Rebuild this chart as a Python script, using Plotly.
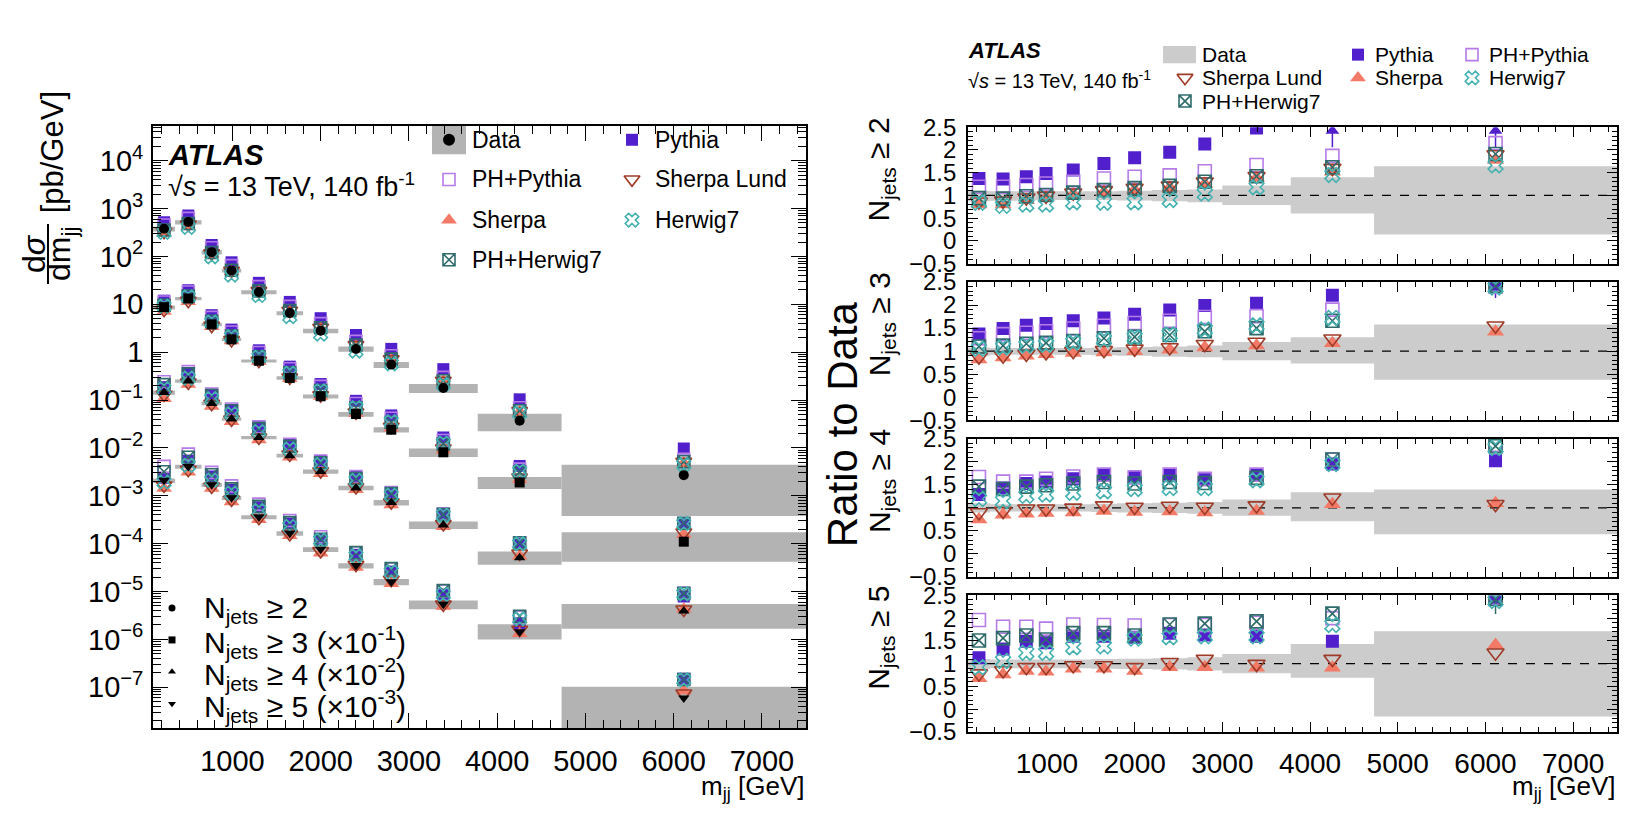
import plotly.graph_objects as go

W, H = 1635, 829
FONT = "Liberation Sans, Arial, Helvetica, sans-serif"

# ---------------- data ----------------
mjj_edges = [100, 350, 650, 880, 1100, 1500, 1800, 2200, 2600, 3000, 3780, 4730, 7500]
x_ticks = [1000, 2000, 3000, 4000, 5000, 6000, 7000]

njets_names = ["2", "3", "4", "5"]
njets_scale_exp = [0, -1, -2, -3]
data_symbols = ["circle", "square", "triangle-up", "triangle-down"]

# measured cross sections dsigma/dmjj [pb/GeV] (unscaled)
data_n2 = [380, 525, 123, 51, 18, 6.6, 2.8, 1.17, 0.55, 0.178, 0.037, 0.0027]
data_n3 = [87, 132, 38, 18.5, 6.6, 2.9, 1.2, 0.51, 0.24, 0.081, 0.019, 0.0011]
data_n4 = [14.4, 25, 8.5, 4.0, 1.65, 0.69, 0.32, 0.146, 0.072, 0.0245, 0.0051, 0.00039]
data_n5 = [2.1, 4.1, 1.7, 0.91, 0.36, 0.165, 0.076, 0.035, 0.016, 0.0054, 0.00145, 0.00006]

# relative total uncertainty of the data (up / down)
unc_up_n2 = [0.10, 0.09, 0.09, 0.09, 0.09, 0.09, 0.10, 0.12, 0.13, 0.22, 0.40, 0.64]
unc_dn_n2 = [0.13, 0.12, 0.11, 0.10, 0.10, 0.10, 0.11, 0.13, 0.15, 0.21, 0.40, 0.86]
unc_up_n3 = [0.08, 0.07, 0.07, 0.07, 0.07, 0.08, 0.09, 0.10, 0.12, 0.20, 0.30, 0.58]
unc_dn_n3 = [0.10, 0.08, 0.08, 0.08, 0.08, 0.09, 0.10, 0.12, 0.13, 0.20, 0.27, 0.62]
unc_up_n4 = [0.10, 0.08, 0.08, 0.08, 0.08, 0.09, 0.10, 0.11, 0.13, 0.18, 0.34, 0.40]
unc_dn_n4 = [0.10, 0.08, 0.08, 0.08, 0.08, 0.09, 0.10, 0.11, 0.13, 0.17, 0.29, 0.57]
unc_up_n5 = [0.10, 0.09, 0.09, 0.09, 0.09, 0.10, 0.11, 0.12, 0.14, 0.21, 0.43, 0.71]
unc_dn_n5 = [0.12, 0.10, 0.10, 0.10, 0.10, 0.11, 0.12, 0.13, 0.15, 0.21, 0.31, 1.16]

# MC / data ratios
pythia_n2 = [1.37, 1.36, 1.41, 1.48, 1.56, 1.70, 1.83, 1.95, 2.13, 2.48, 2.80, 3.60]
phpythia_n2 = [1.19, 1.19, 1.23, 1.26, 1.30, 1.37, 1.41, 1.44, 1.53, 1.67, 1.87, 2.15]
sherpa_n2 = [0.80, 0.80, 0.90, 0.95, 1.02, 1.07, 1.12, 1.17, 1.25, 1.38, 1.52, 1.78]
sherpalund_n2 = [0.86, 0.88, 0.95, 0.99, 1.06, 1.11, 1.16, 1.21, 1.30, 1.42, 1.60, 1.90]
phherwig_n2 = [0.94, 0.93, 0.98, 1.01, 1.06, 1.12, 1.16, 1.21, 1.30, 1.42, 1.62, 1.91]
herwig_n2 = [0.84, 0.77, 0.80, 0.80, 0.85, 0.84, 0.85, 0.90, 1.04, 1.18, 1.45, 1.66]

pythia_n3 = [1.37, 1.49, 1.56, 1.60, 1.66, 1.72, 1.80, 1.89, 1.99, 2.04, 2.21, 2.45]
phpythia_n3 = [1.28, 1.37, 1.40, 1.43, 1.49, 1.55, 1.61, 1.66, 1.74, 1.76, 1.90, 2.40]
sherpa_n3 = [0.82, 0.86, 0.90, 0.93, 0.96, 0.97, 1.00, 1.03, 1.08, 1.12, 1.17, 1.42]
sherpalund_n3 = [0.88, 0.90, 0.94, 0.97, 1.00, 1.02, 1.05, 1.08, 1.15, 1.20, 1.27, 1.55]
phherwig_n3 = [1.10, 1.12, 1.16, 1.18, 1.22, 1.28, 1.31, 1.35, 1.43, 1.50, 1.66, 2.42]
herwig_n3 = [1.05, 1.08, 1.12, 1.14, 1.19, 1.25, 1.30, 1.36, 1.47, 1.56, 1.72, 2.38]

pythia_n4 = [1.29, 1.43, 1.53, 1.56, 1.63, 1.71, 1.67, 1.71, 1.61, 1.70, 1.95, 2.02]
phpythia_n4 = [1.67, 1.57, 1.57, 1.63, 1.68, 1.72, 1.66, 1.72, 1.63, 1.72, 2.05, 2.37]
sherpa_n4 = [0.75, 0.85, 0.87, 0.89, 0.90, 0.93, 0.91, 0.92, 0.90, 0.93, 1.08, 1.10]
sherpalund_n4 = [0.90, 0.93, 0.98, 0.98, 1.00, 1.05, 1.02, 1.04, 1.02, 1.05, 1.22, 1.08]
phherwig_n4 = [1.46, 1.41, 1.46, 1.49, 1.53, 1.56, 1.53, 1.56, 1.54, 1.65, 2.05, 2.34]
herwig_n4 = [1.19, 1.15, 1.26, 1.29, 1.33, 1.36, 1.41, 1.43, 1.43, 1.60, 1.95, 2.30]

pythia_n5 = [1.13, 1.32, 1.49, 1.46, 1.60, 1.60, 1.58, 1.67, 1.63, 1.60, 1.49, 2.42]
phpythia_n5 = [1.96, 1.81, 1.81, 1.77, 1.86, 1.85, 1.84, 1.85, 1.85, 1.90, 2.00, 2.45]
sherpa_n5 = [0.68, 0.76, 0.84, 0.82, 0.89, 0.89, 0.84, 0.92, 0.92, 0.91, 0.91, 1.41]
sherpalund_n5 = [0.78, 0.85, 0.92, 0.92, 0.96, 0.96, 0.92, 1.03, 1.10, 0.99, 1.10, 1.24]
phherwig_n5 = [1.51, 1.56, 1.62, 1.53, 1.67, 1.67, 1.62, 1.86, 1.88, 1.93, 2.10, 2.42]
herwig_n5 = [0.92, 1.06, 1.24, 1.24, 1.36, 1.38, 1.55, 1.58, 1.60, 1.60, 1.85, 2.38]

# visible statistical error of MC in the last bin (ratio units)
last_bin_err = {("3", "Pythia"): 0.30, ("5", "PH+Herwig7"): 0.33}

data_all = [data_n2, data_n3, data_n4, data_n5]
unc_up_all = [unc_up_n2, unc_up_n3, unc_up_n4, unc_up_n5]
unc_dn_all = [unc_dn_n2, unc_dn_n3, unc_dn_n4, unc_dn_n5]
ratio_all = [
    {"Pythia": pythia_n2, "PH+Pythia": phpythia_n2, "Sherpa": sherpa_n2,
     "Sherpa Lund": sherpalund_n2, "PH+Herwig7": phherwig_n2, "Herwig7": herwig_n2},
    {"Pythia": pythia_n3, "PH+Pythia": phpythia_n3, "Sherpa": sherpa_n3,
     "Sherpa Lund": sherpalund_n3, "PH+Herwig7": phherwig_n3, "Herwig7": herwig_n3},
    {"Pythia": pythia_n4, "PH+Pythia": phpythia_n4, "Sherpa": sherpa_n4,
     "Sherpa Lund": sherpalund_n4, "PH+Herwig7": phherwig_n4, "Herwig7": herwig_n4},
    {"Pythia": pythia_n5, "PH+Pythia": phpythia_n5, "Sherpa": sherpa_n5,
     "Sherpa Lund": sherpalund_n5, "PH+Herwig7": phherwig_n5, "Herwig7": herwig_n5},
]

samples = ["Pythia", "PH+Pythia", "Sherpa", "Sherpa Lund", "PH+Herwig7", "Herwig7"]
mc_style = {
    "Pythia": ("square", "#5120cc"),
    "PH+Pythia": ("square-open", "#b57be6"),
    "Sherpa": ("triangle-up", "#f27a66"),
    "Sherpa Lund": ("triangle-down-open", "#9e3b28"),
    "PH+Herwig7": ("square-x-open", "#2f6b6b"),
    "Herwig7": ("x-open", "#45b1b1"),
}
BAND_L = "#b3b3b3"
BAND_R = "#cccccc"

centers = [(a + b) / 2 for a, b in zip(mjj_edges[:-1], mjj_edges[1:])]
XR = [mjj_edges[0], mjj_edges[-1]]

# ---------------- geometry (pixels) ----------------
LEFT_X = (153, 806)
LEFT_Y = (116, 738)
RIGHT_X = (968, 1617)
RIGHT_Y = [(117, 258), (277, 420), (439, 582), (601, 742)]


def px(x):
    return x / W


def py(y):
    return 1 - y / H


def mstyle(name, size):
    sym, col = mc_style[name]
    if sym.startswith("triangle"):
        size = size * 1.15
    if sym.endswith("open"):
        return dict(symbol=sym, size=size, color=col, line=dict(color=col, width=1.6))
    return dict(symbol=sym, size=size, color=col, line=dict(width=0))


def band_xy(lo, hi):
    xs, ys = [], []
    for i in range(len(centers)):
        a, b = mjj_edges[i], mjj_edges[i + 1]
        xs += [a, b, b, a, a, None]
        ys += [lo[i], lo[i], hi[i], hi[i], lo[i], None]
    return xs, ys


fig = go.Figure()

# ---------------- left panel ----------------
for k in range(4):
    s = 10 ** njets_scale_exp[k]
    d = [v * s for v in data_all[k]]
    lo = [max(v * (1 - dn), 1e-12) for v, dn in zip(d, unc_dn_all[k])]
    hi = [v * (1 + up) for v, up in zip(d, unc_up_all[k])]
    bx, by = band_xy(lo, hi)
    fig.add_trace(go.Scatter(x=bx, y=by, mode="lines", fill="toself", fillcolor=BAND_L,
                             line=dict(width=0), hoverinfo="skip", showlegend=False,
                             xaxis="x", yaxis="y"))
for k in range(4):
    s = 10 ** njets_scale_exp[k]
    for name in samples:
        vals = [dv * s * r for dv, r in zip(data_all[k], ratio_all[k][name])]
        fig.add_trace(go.Scatter(x=centers, y=vals, mode="markers", marker=mstyle(name, 12),
                                 showlegend=False, xaxis="x", yaxis="y"))
for k in range(4):
    s = 10 ** njets_scale_exp[k]
    d = [v * s for v in data_all[k]]
    fig.add_trace(go.Scatter(x=centers, y=d, mode="markers",
                             marker=dict(symbol=data_symbols[k], size=10, color="black"),
                             showlegend=False, xaxis="x", yaxis="y"))

# ---------------- right panels ----------------
for k in range(4):
    xa = "x%d" % (k + 2)
    ya = "y%d" % (k + 2)
    lo = [1 - v for v in unc_dn_all[k]]
    hi = [1 + v for v in unc_up_all[k]]
    bx, by = band_xy(lo, hi)
    fig.add_trace(go.Scatter(x=bx, y=by, mode="lines", fill="toself", fillcolor=BAND_R,
                             line=dict(width=0), hoverinfo="skip", showlegend=False,
                             xaxis=xa, yaxis=ya))
    fig.add_trace(go.Scatter(x=XR, y=[1, 1], mode="lines",
                             line=dict(color="black", width=1.3, dash="dash"),
                             showlegend=False, xaxis=xa, yaxis=ya))
    for name in samples:
        r = ratio_all[k][name]
        col = mc_style[name][1]
        inx, iny, errm = [], [], []
        arx = []
        for i, v in enumerate(r):
            if v > 2.5:
                arx.append(centers[i])
            else:
                inx.append(centers[i])
                iny.append(v)
                e = last_bin_err.get((njets_names[k], name), 0) if i == len(r) - 1 else 0
                errm.append(e)
        tr = dict(x=inx, y=iny, mode="markers", marker=mstyle(name, 13),
                  showlegend=False, xaxis=xa, yaxis=ya)
        if any(errm):
            tr["error_y"] = dict(type="data", symmetric=False, array=[0] * len(errm),
                                 arrayminus=errm, width=0, thickness=1.5, color=col)
        fig.add_trace(go.Scatter(**tr))
        if arx:
            fig.add_trace(go.Scatter(
                x=arx, y=[2.42] * len(arx), mode="markers",
                marker=dict(symbol="triangle-up", size=12, color=col),
                error_y=dict(type="data", symmetric=False, array=[0] * len(arx),
                             arrayminus=[0.36] * len(arx), width=0, thickness=1.5, color=col),
                showlegend=False, xaxis=xa, yaxis=ya))

# ---------------- legend markers (pixel overlay) ----------------
OV = dict(xaxis="x6", yaxis="y6", showlegend=False, hoverinfo="skip")
shapes = []
annotations = []


def legend_entry(name, mx, my, size):
    if name == "Data":
        return
    fig.add_trace(go.Scatter(x=[mx], y=[my], mode="markers", marker=mstyle(name, size), **OV))


# left legend
LC1, LC2 = 449, 632
LROWS = [130, 171, 213, 254]
left_entries = [("Data", LC1, 0), ("Pythia", LC2, 0), ("PH+Pythia", LC1, 1),
                ("Sherpa Lund", LC2, 1), ("Sherpa", LC1, 2), ("Herwig7", LC2, 2),
                ("PH+Herwig7", LC1, 3)]
for name, cx, r in left_entries:
    y0 = LROWS[r]
    legend_entry(name, cx, y0, 12)
    annotations.append(dict(x=px(cx + 21), y=py(y0), xref="paper", yref="paper", text=name,
                            showarrow=False, xanchor="left", yanchor="middle",
                            font=dict(size=23, family=FONT, color="black")))
shapes.append(dict(type="rect", xref="paper", yref="paper", x0=px(LC1 - 17), x1=px(LC1 + 17),
                   y0=py(LROWS[0] + 15), y1=py(LROWS[0] - 15), fillcolor=BAND_L,
                   line=dict(width=0), layer="below"))
fig.add_trace(go.Scatter(x=[LC1], y=[LROWS[0]], mode="markers",
                         marker=dict(symbol="circle", size=12, color="black"), **OV))

# njets marker legend (bottom-left)
NROWS = [614, 647, 680, 713]
njets_texts = ["N<sub>jets</sub> ≥ 2", "N<sub>jets</sub> ≥ 3 (×10<sup>-1</sup>)",
               "N<sub>jets</sub> ≥ 4 (×10<sup>-2</sup>)", "N<sub>jets</sub> ≥ 5 (×10<sup>-3</sup>)"]
for k in range(4):
    fig.add_trace(go.Scatter(x=[172], y=[NROWS[k]], mode="markers",
                             marker=dict(symbol=data_symbols[k], size=7, color="black"), **OV))
    annotations.append(dict(x=px(202), y=py(NROWS[k] + 2), xref="paper", yref="paper",
                            text=njets_texts[k], showarrow=False, xanchor="left",
                            yanchor="middle", font=dict(size=30, family=FONT, color="black")))

# right legend
RC = [1185, 1358, 1472]
RROWS = [42, 66, 90]
right_entries = [("Data", 0, 0), ("Pythia", 1, 0), ("PH+Pythia", 2, 0),
                 ("Sherpa Lund", 0, 1), ("Sherpa", 1, 1), ("Herwig7", 2, 1),
                 ("PH+Herwig7", 0, 2)]
for name, c, r in right_entries:
    legend_entry(name, RC[c], RROWS[r], 12)
    annotations.append(dict(x=px(RC[c] + 15), y=py(RROWS[r]), xref="paper", yref="paper",
                            text=name, showarrow=False, xanchor="left", yanchor="middle",
                            font=dict(size=21, family=FONT, color="black")))
shapes.append(dict(type="rect", xref="paper", yref="paper", x0=px(RC[0] - 22), x1=px(RC[0] + 11),
                   y0=py(RROWS[0] + 9), y1=py(RROWS[0] - 9), fillcolor=BAND_R,
                   line=dict(width=0), layer="below"))


# ---------------- texts ----------------
def txt(x, y, s, size, xa="left", ya="middle", angle=0):
    annotations.append(dict(x=px(x), y=py(y), xref="paper", yref="paper", text=s,
                            showarrow=False, xanchor=xa, yanchor=ya, textangle=angle,
                            font=dict(size=size, family=FONT, color="black")))


txt(166, 146, "<b><i>ATLAS</i></b>", 29)
txt(166, 177, "√<i>s</i> = 13 TeV, 140 fb<sup>-1</sup>", 27)
txt(966, 38, "<b><i>ATLAS</i></b>", 22)
txt(966, 68, "√<i>s</i> = 13 TeV, 140 fb<sup>-1</sup>", 20)

# left y title (fraction)
txt(34, 248, "d<i>σ</i>", 32, xa="center", angle=-90)
txt(62, 248, "dm<sub>jj</sub>", 32, xa="center", angle=-90)
shapes.append(dict(type="line", xref="paper", yref="paper", x0=px(48), x1=px(48),
                   y0=py(217), y1=py(279), line=dict(color="black", width=2)))
txt(52, 143, "[pb/GeV]", 31, xa="center", angle=-90)

# axis titles
txt(806, 800, "m<sub>jj</sub> [GeV]", 26, xa="right")
txt(1617, 800, "m<sub>jj</sub> [GeV]", 26, xa="right")
txt(842, 424, "Ratio to Data", 42, xa="center", angle=-90)
for k in range(4):
    annotations.append(dict(x=px(881), y=py(RIGHT_Y[k][0] - 12), xref="paper", yref="paper",
                            text="N<sub>jets</sub> ≥ " + njets_names[k], showarrow=False,
                            xanchor="center", yanchor="top", textangle=-90,
                            font=dict(size=30, family=FONT, color="black")))

# ---------------- axes ----------------
AX = dict(showline=True, linecolor="black", linewidth=1.6, mirror="ticks", ticks="inside",
          tickcolor="black", tickwidth=1.4, showgrid=False, zeroline=False)

ylog_vals = [10.0 ** e for e in range(-7, 5)]
ylog_text = []
for e in range(-7, 5):
    if e == 0:
        ylog_text.append("1")
    elif e == 1:
        ylog_text.append("10")
    elif e < 0:
        ylog_text.append("10<sup>−%d</sup>" % (-e))
    else:
        ylog_text.append("10<sup>%d</sup>" % e)

layout = dict(
    width=W, height=H, margin=dict(l=0, r=0, t=0, b=0),
    paper_bgcolor="white", plot_bgcolor="rgba(0,0,0,0)",
    font=dict(family=FONT, color="black"),
    showlegend=False,
    xaxis=dict(AX, domain=[px(LEFT_X[0]), px(LEFT_X[1])], anchor="y", range=XR,
               tickvals=x_ticks, ticklen=15, tickfont=dict(size=29),
               minor=dict(ticks="inside", ticklen=8, dtick=200, tick0=0, tickcolor="black",
                          tickwidth=1.2, showgrid=False),
               ticklabelstandoff=6),
    yaxis=dict(AX, domain=[py(LEFT_Y[1]), py(LEFT_Y[0])], anchor="x", type="log",
               range=[-7.85, 4.72], tickvals=ylog_vals, ticktext=ylog_text, ticklen=15,
               tickfont=dict(size=29),
               minor=dict(ticks="inside", ticklen=8, dtick="D1", tickcolor="black",
                          tickwidth=1.2, showgrid=False),
               ticklabelstandoff=2),
    xaxis6=dict(domain=[0, 1], range=[0, W], visible=False, anchor="y6", fixedrange=True),
    yaxis6=dict(domain=[0, 1], range=[H, 0], visible=False, anchor="x6", fixedrange=True),
)
for k in range(4):
    n = k + 2
    layout["xaxis%d" % n] = dict(AX, domain=[px(RIGHT_X[0]), px(RIGHT_X[1])], anchor="y%d" % n,
                                 range=XR, tickvals=x_ticks, ticklen=10,
                                 showticklabels=(k == 3), tickfont=dict(size=28),
                                 minor=dict(ticks="inside", ticklen=5, dtick=200, tick0=0,
                                            tickcolor="black", tickwidth=1.2, showgrid=False),
                                 ticklabelstandoff=6)
    layout["yaxis%d" % n] = dict(AX, domain=[py(RIGHT_Y[k][1]), py(RIGHT_Y[k][0])],
                                 anchor="x%d" % n, range=[-0.5, 2.5],
                                 tickvals=[-0.5, 0, 0.5, 1, 1.5, 2, 2.5],
                                 ticktext=["−0.5", "0", "0.5", "1", "1.5", "2", "2.5"],
                                 ticklen=10, tickfont=dict(size=24),
                                 minor=dict(ticks="inside", ticklen=5, dtick=0.1, tick0=0,
                                            tickcolor="black", tickwidth=1.2, showgrid=False),
                                 ticklabelstandoff=5)

layout["annotations"] = annotations
layout["shapes"] = shapes
fig.update_layout(**layout)

fig.write_html("out.html", post_script="document.body.style.margin='0';")
